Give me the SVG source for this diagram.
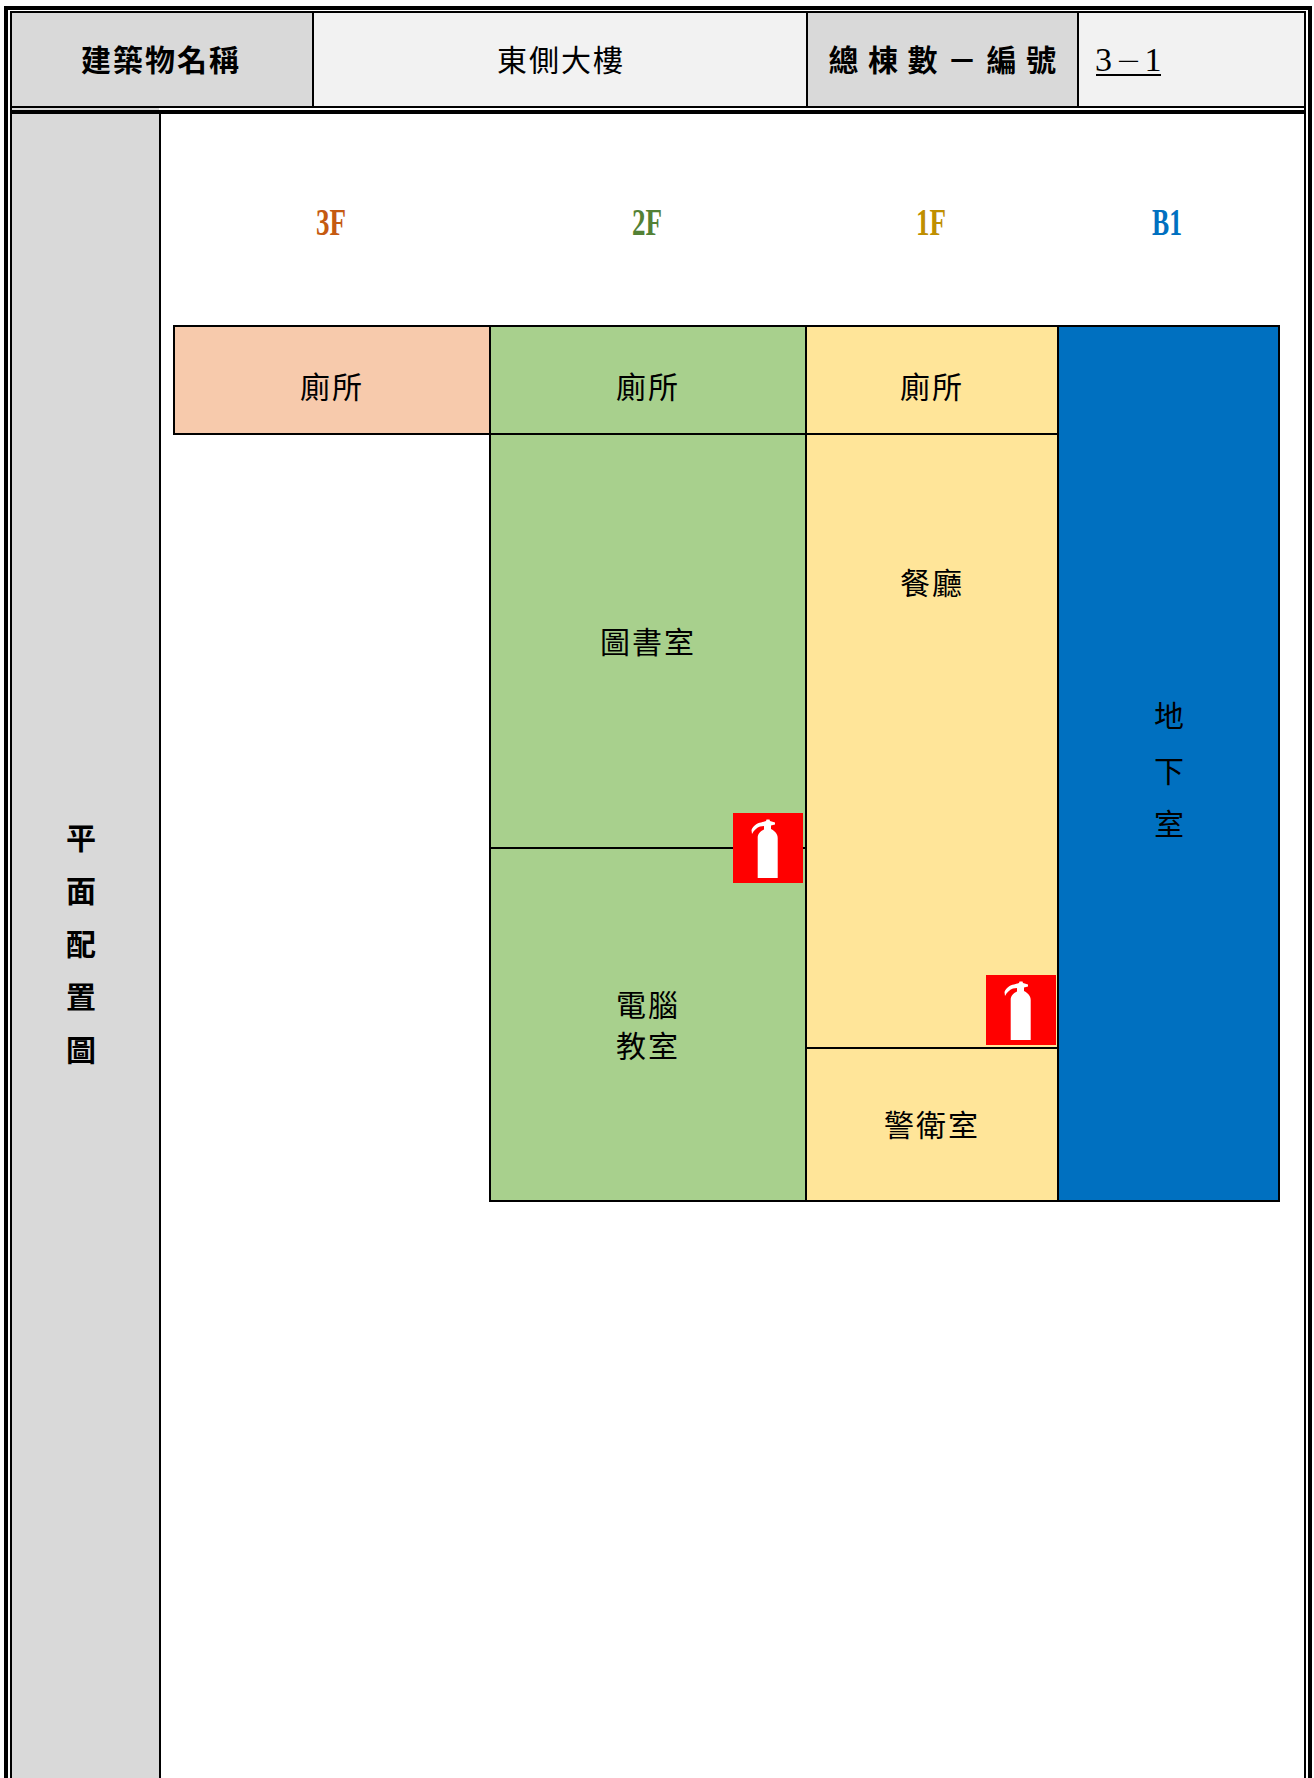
<svg xmlns="http://www.w3.org/2000/svg" width="1314" height="1778" viewBox="0 0 1314 1778">
<style>
text{font-family:"Noto Sans CJK TC","Noto Sans CJK SC",serif;fill:#000;text-anchor:middle}
.b{font-size:30px;font-weight:700;letter-spacing:2px}
.n{font-size:30px;font-weight:400;letter-spacing:2px}
.f{font-family:"Liberation Serif",serif;font-size:38px;font-weight:700}
.l{fill:#000}
.r{stroke:#000;stroke-width:2}
</style>
<defs>
<g id="ext"><rect width="70" height="70" fill="#f00"/><path fill="#fff" d="M19 21L18.500 17C20 13 24 10 28 9.500L33 8L33.500 6.500L36.500 6.500L37 8L42 9.500L42 11.500L38 12.500L38 16C42 18 44.700 21 44.700 25L44.700 65L24.700 65L24.700 25C24.700 21 27 18.500 31 16.500L31 13L27 13.500C24 14.500 21 17 19 21Z"/></g>
</defs>
<rect width="1314" height="1778" fill="#fff"/>
<g id="frame">
<rect x="12" y="13" width="300" height="93" fill="#d9d9d9"/>
<rect x="314" y="13" width="492" height="93" fill="#f2f2f2"/>
<rect x="807" y="13" width="270" height="93" fill="#d9d9d9"/>
<rect x="1078" y="13" width="226" height="93" fill="#f2f2f2"/>
<rect x="12" y="108" width="147" height="1670" fill="#d9d9d9"/>
<rect class="l" x="4" y="6" width="1308" height="4"/>
<rect class="l" x="4" y="6" width="4" height="1772"/>
<rect class="l" x="1308" y="6" width="4" height="1772"/>
<rect class="l" x="10" y="11" width="1296" height="2"/>
<rect class="l" x="10" y="11" width="2" height="1767"/>
<rect class="l" x="1304" y="11" width="2" height="1767"/>
<rect class="l" x="10" y="106" width="1296" height="2"/>
<rect class="l" x="10" y="110" width="1296" height="4"/>
<rect class="l" x="312" y="13" width="2" height="93"/>
<rect class="l" x="806" y="13" width="2" height="93"/>
<rect class="l" x="1077" y="13" width="2" height="93"/>
<rect class="l" x="159" y="114" width="2" height="1664"/>
</g>
<g id="header-name-label"><text class="b" x="161" y="71">建築物名稱</text></g>
<g id="header-name-value"><text class="n" x="561" y="71">東側大樓</text></g>
<g id="header-count-label"><text class="b" x="947" y="71" style="letter-spacing:9.500px">總棟數－編號</text></g>
<g id="header-count-value"><text x="1103.500" y="71" style="font-family:'Liberation Serif',serif;font-size:34px">3</text><text x="1128.500" y="71" style="font-size:26px;font-weight:300">－</text><text x="1153" y="71" style="font-family:'Liberation Serif',serif;font-size:34px">1</text><rect class="l" x="1096" y="74" width="65" height="2"/></g>
<g id="side-label">
<text class="b" x="82" y="849">平</text><text class="b" x="82" y="902">面</text><text class="b" x="82" y="955">配</text><text class="b" x="82" y="1008">置</text><text class="b" x="82" y="1061">圖</text>
</g>
<g id="floor-labels">
<text class="f" x="331" y="235" style="fill:#c55a11" textLength="30" lengthAdjust="spacingAndGlyphs">3F</text>
<text class="f" x="647" y="235" style="fill:#538135" textLength="30" lengthAdjust="spacingAndGlyphs">2F</text>
<text class="f" x="931" y="235" style="fill:#bf8f00" textLength="30" lengthAdjust="spacingAndGlyphs">1F</text>
<text class="f" x="1167" y="235" style="fill:#0070c0" textLength="30" lengthAdjust="spacingAndGlyphs">B1</text>
</g>
<g id="room-3f-toilet"><rect class="r" x="174" y="326" width="316" height="108" fill="#f7caac"/><text class="n" x="332" y="398">廁所</text></g>
<g id="room-2f-toilet"><rect class="r" x="490" y="326" width="316" height="108" fill="#a8d08d"/><text class="n" x="648" y="398">廁所</text></g>
<g id="room-library"><rect class="r" x="490" y="434" width="316" height="414" fill="#a8d08d"/><text class="n" x="648" y="653">圖書室</text></g>
<g id="room-computer"><rect class="r" x="490" y="848" width="316" height="353" fill="#a8d08d"/><text class="n" x="648" y="1016">電腦</text><text class="n" x="648" y="1057">教室</text></g>
<g id="room-1f-toilet"><rect class="r" x="806" y="326" width="252" height="108" fill="#ffe599"/><text class="n" x="932" y="398">廁所</text></g>
<g id="room-dining"><rect class="r" x="806" y="434" width="252" height="614" fill="#ffe599"/><text class="n" x="932" y="594">餐廳</text></g>
<g id="room-guard"><rect class="r" x="806" y="1048" width="252" height="153" fill="#ffe599"/><text class="n" x="932" y="1136">警衛室</text></g>
<g id="room-basement"><rect class="r" x="1058" y="326" width="221" height="875" fill="#0070c0"/><text class="n" x="1170" y="727">地</text><text class="n" x="1170" y="782">下</text><text class="n" x="1170" y="835">室</text></g>
<g id="extinguisher-2f"><use href="#ext" x="733" y="813"/></g>
<g id="extinguisher-1f"><use href="#ext" x="986" y="975"/></g>
<g id="connectors"></g>
</svg>
